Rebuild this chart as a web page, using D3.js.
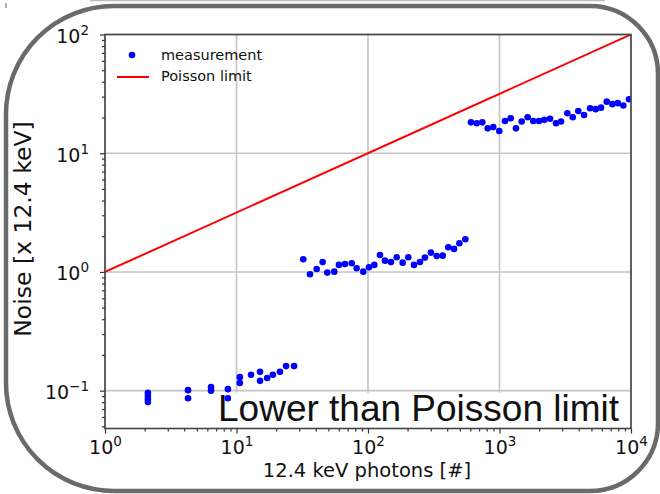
<!DOCTYPE html>
<html>
<head>
<meta charset="utf-8">
<script src="https://cdn.jsdelivr.net/npm/d3@7"></script>
<style>
  body { margin: 0; background: #fff; }
  svg { display: block; }
</style>
</head>
<body>
<div id="chart"></div>
<script>

var measurementPhotons = [
  2.12, 2.12, 2.12, 2.12, 4.28, 4.28, 6.4, 6.4, 8.6, 8.6,
  10.6, 10.6, 12.9, 15.1, 15.1, 17.1, 18.9, 21.4, 23.8, 27.4,
  32.2, 36.2, 40.7, 45.2, 49.0, 55.4, 60.1, 66.8, 75.2, 82.0,
  92.1, 101.8, 111.7, 123.3, 134.6, 149.6, 165.3, 183.5, 202.5, 223.7,
  248.5, 271, 301, 333, 370, 408, 451, 495, 550,
  607, 671, 740, 813, 897, 996, 1101, 1216, 1334, 1474,
  1637, 1806, 1997, 2191, 2422, 2690, 2937, 3280, 3606, 3975,
  4393, 4881, 5393, 5915, 6535, 7211, 7925, 8738, 9658
];
var measurementNoise = [
  0.0957, 0.0902, 0.0851, 0.0803, 0.101, 0.0863, 0.107, 0.100, 0.103, 0.0863,
  0.130, 0.116, 0.136, 0.144, 0.121, 0.128, 0.136, 0.144, 0.161, 0.161,
  1.28, 0.956, 1.06, 1.21, 0.987, 1.006, 1.146, 1.168, 1.184, 1.075,
  1.006, 1.095, 1.146, 1.39, 1.245, 1.21, 1.33, 1.197, 1.33, 1.146,
  1.214, 1.32, 1.455, 1.364, 1.372, 1.615, 1.563, 1.745, 1.885,
  18.2, 17.9, 18.2, 16.2, 16.6, 15.4, 18.7, 19.7, 16.2, 18.5,
  20.1, 18.7, 18.7, 19.1, 19.5, 17.9, 18.5, 21.7, 20.1, 22.7,
  21.0, 23.9, 23.5, 24.2, 27.2, 25.9, 26.4, 25.2, 28.5
];

// Poisson limit = sqrt(N)
var poissonPhotons = [1, 10000];
var poissonNoise = [1, 100];

// tick exponents
var xTickExp = [0, 1, 2, 3, 4];
var yTickExp = [-1, 0, 1, 2];

var xLabel = "12.4 keV photons [#]";
var yLabel = "Noise [x 12.4 keV]";
var legendLabels = ["measurement", "Poisson limit"];
var noteText = "Lower than Poisson limit";

var width = 660, height = 494;
// plot area (don't call these top/left, window.top is taken)
var pLeft = 105, pRight = 631, pTop = 34.5, pBottom = 428.5;

var svg = d3.select("#chart").append("svg")
  .attr("width", width)
  .attr("height", height);

// slide frame around the figure
svg.append("line")
  .attr("x1", 90).attr("x2", 605).attr("y1", 0.5).attr("y2", 0.5)
  .attr("stroke", "#bbb").attr("stroke-width", 1.5);
svg.append("line")
  .attr("x1", 6).attr("x2", 6).attr("y1", 3).attr("y2", 8)
  .attr("stroke", "#999").attr("stroke-width", 1.5);

var rl = 108, rr = 68;
var fx0 = 6, fx1 = 658, fy0 = 6, fy1 = 491;
var framePath = "M" + (fx0 + rl) + "," + fy0 +
  " L" + (fx1 - rr) + "," + fy0 +
  " A" + rr + "," + rr + " 0 0 1 " + fx1 + "," + (fy0 + rr) +
  " L" + fx1 + "," + (fy1 - rr) +
  " A" + rr + "," + rr + " 0 0 1 " + (fx1 - rr) + "," + fy1 +
  " L" + (fx0 + rl) + "," + fy1 +
  " A" + rl + "," + rl + " 0 0 1 " + fx0 + "," + (fy1 - rl) +
  " L" + fx0 + "," + (fy0 + rl) +
  " A" + rl + "," + rl + " 0 0 1 " + (fx0 + rl) + "," + fy0 + " Z";
svg.append("path")
  .attr("d", framePath)
  .attr("fill", "none")
  .attr("stroke", "#6a6a6a")
  .attr("stroke-width", 4.5);

var x = d3.scaleLog().domain([1, 10000]).range([pLeft, pRight]);
var y = d3.scaleLog().domain([0.048, 100]).range([pBottom, pTop]);

var xMajor = xTickExp.map(function(e) { return Math.pow(10, e); });
var yMajor = yTickExp.map(function(e) { return Math.pow(10, e); });

function minorTicks(scale) {
  var d = scale.domain(), out = [];
  for (var e = -2; e <= 4; e++) {
    for (var m = 2; m <= 9; m++) {
      var v = m * Math.pow(10, e);
      if (v > d[0] && v < d[1]) out.push(v);
    }
  }
  return out;
}

// grid
var grid = svg.append("g");
grid.selectAll(".gx").data(xMajor).enter().append("line")
  .attr("x1", function(d) { return x(d); })
  .attr("x2", function(d) { return x(d); })
  .attr("y1", pTop).attr("y2", pBottom)
  .attr("stroke", "#c4c4c4").attr("stroke-width", 1.6);
grid.selectAll(".gy").data(yMajor).enter().append("line")
  .attr("y1", function(d) { return y(d); })
  .attr("y2", function(d) { return y(d); })
  .attr("x1", pLeft).attr("x2", pRight)
  .attr("stroke", "#c4c4c4").attr("stroke-width", 1.6);

svg.append("clipPath").attr("id", "plotclip")
  .append("rect")
  .attr("x", pLeft).attr("y", pTop)
  .attr("width", pRight - pLeft).attr("height", pBottom - pTop);

var plot = svg.append("g").attr("clip-path", "url(#plotclip)");

var line = d3.line()
  .x(function(d) { return x(d[0]); })
  .y(function(d) { return y(d[1]); });

plot.append("path")
  .datum(d3.zip(poissonPhotons, poissonNoise))
  .attr("d", line)
  .attr("fill", "none")
  .attr("stroke", "#ff0000")
  .attr("stroke-width", 2);

plot.selectAll(".dot")
  .data(d3.zip(measurementPhotons, measurementNoise))
  .enter().append("circle")
  .attr("cx", function(d) { return x(d[0]); })
  .attr("cy", function(d) { return y(d[1]); })
  .attr("r", 3.3)
  .attr("fill", "#0000ff");

// white box behind the note
svg.append("rect")
  .attr("x", 231).attr("y", 393)
  .attr("width", pRight - 1 - 231).attr("height", pBottom - 1 - 393)
  .attr("fill", "#fff");

// axes
var tickColor = "#333";

function styleAxis(g) {
  g.select(".domain").remove();
  g.selectAll(".tick line").attr("stroke", tickColor).attr("stroke-width", 1.2);
}

svg.append("g")
  .attr("transform", "translate(0," + pBottom + ")")
  .call(d3.axisBottom(x).tickValues(minorTicks(x)).tickSize(3).tickFormat(""))
  .call(styleAxis);
var xg = svg.append("g")
  .attr("transform", "translate(0," + pBottom + ")")
  .call(d3.axisBottom(x).tickValues(xMajor).tickSize(5).tickFormat(""))
  .call(styleAxis);

svg.append("g")
  .attr("transform", "translate(" + pLeft + ",0)")
  .call(d3.axisLeft(y).tickValues(minorTicks(y)).tickSize(3).tickFormat(""))
  .call(styleAxis);
var yg = svg.append("g")
  .attr("transform", "translate(" + pLeft + ",0)")
  .call(d3.axisLeft(y).tickValues(yMajor).tickSize(5).tickFormat(""))
  .call(styleAxis);

function powLabel(sel, expo) {
  sel.append("tspan").text("10");
  sel.append("tspan")
    .attr("dy", -8)
    .attr("font-size", 13.5)
    .text(expo < 0 ? "\u2212" + (-expo) : expo);
}

xg.selectAll(".tick").each(function(d, i) {
  var t = d3.select(this).append("text")
    .attr("y", 25.5)
    .attr("fill", "#111")
    .attr("font-family", "DejaVu Sans")
    .attr("font-size", 19)
    .attr("text-anchor", "middle");
  powLabel(t, xTickExp[i]);
});

yg.selectAll(".tick").each(function(d, i) {
  var t = d3.select(this).append("text")
    .attr("x", -16)
    .attr("y", 8)
    .attr("fill", "#111")
    .attr("font-family", "DejaVu Sans")
    .attr("font-size", 19)
    .attr("text-anchor", "end");
  powLabel(t, yTickExp[i]);
});

// frame
svg.append("rect")
  .attr("x", pLeft).attr("y", pTop)
  .attr("width", pRight - pLeft).attr("height", pBottom - pTop)
  .attr("fill", "none")
  .attr("stroke", "#444")
  .attr("stroke-width", 1.6);

// axis labels
svg.append("text")
  .attr("x", 367).attr("y", 477)
  .attr("text-anchor", "middle")
  .attr("font-family", "DejaVu Sans")
  .attr("font-size", 19.5)
  .attr("fill", "#111")
  .text(xLabel);

svg.append("text")
  .attr("transform", "translate(31,229) rotate(-90)")
  .attr("text-anchor", "middle")
  .attr("font-family", "DejaVu Sans")
  .attr("font-size", 23.5)
  .attr("fill", "#111")
  .text(yLabel);

// legend
var legend = svg.append("g");
legend.append("circle")
  .attr("cx", 132).attr("cy", 55).attr("r", 3.3)
  .attr("fill", "#0000ff");
legend.append("line")
  .attr("x1", 117).attr("x2", 149).attr("y1", 77).attr("y2", 77)
  .attr("stroke", "#ff0000").attr("stroke-width", 2);
legend.selectAll(".lt").data(legendLabels).enter().append("text")
  .attr("x", 161)
  .attr("y", function(d, i) { return 60 + i * 21; })
  .attr("font-family", "DejaVu Sans")
  .attr("font-size", 14.5)
  .attr("fill", "#111")
  .text(function(d) { return d; });

// note
svg.append("text")
  .attr("x", 218).attr("y", 421)
  .attr("font-family", "Liberation Sans")
  .attr("font-size", 37)
  .attr("fill", "#111")
  .text(noteText);

</script>
</body>
</html>
